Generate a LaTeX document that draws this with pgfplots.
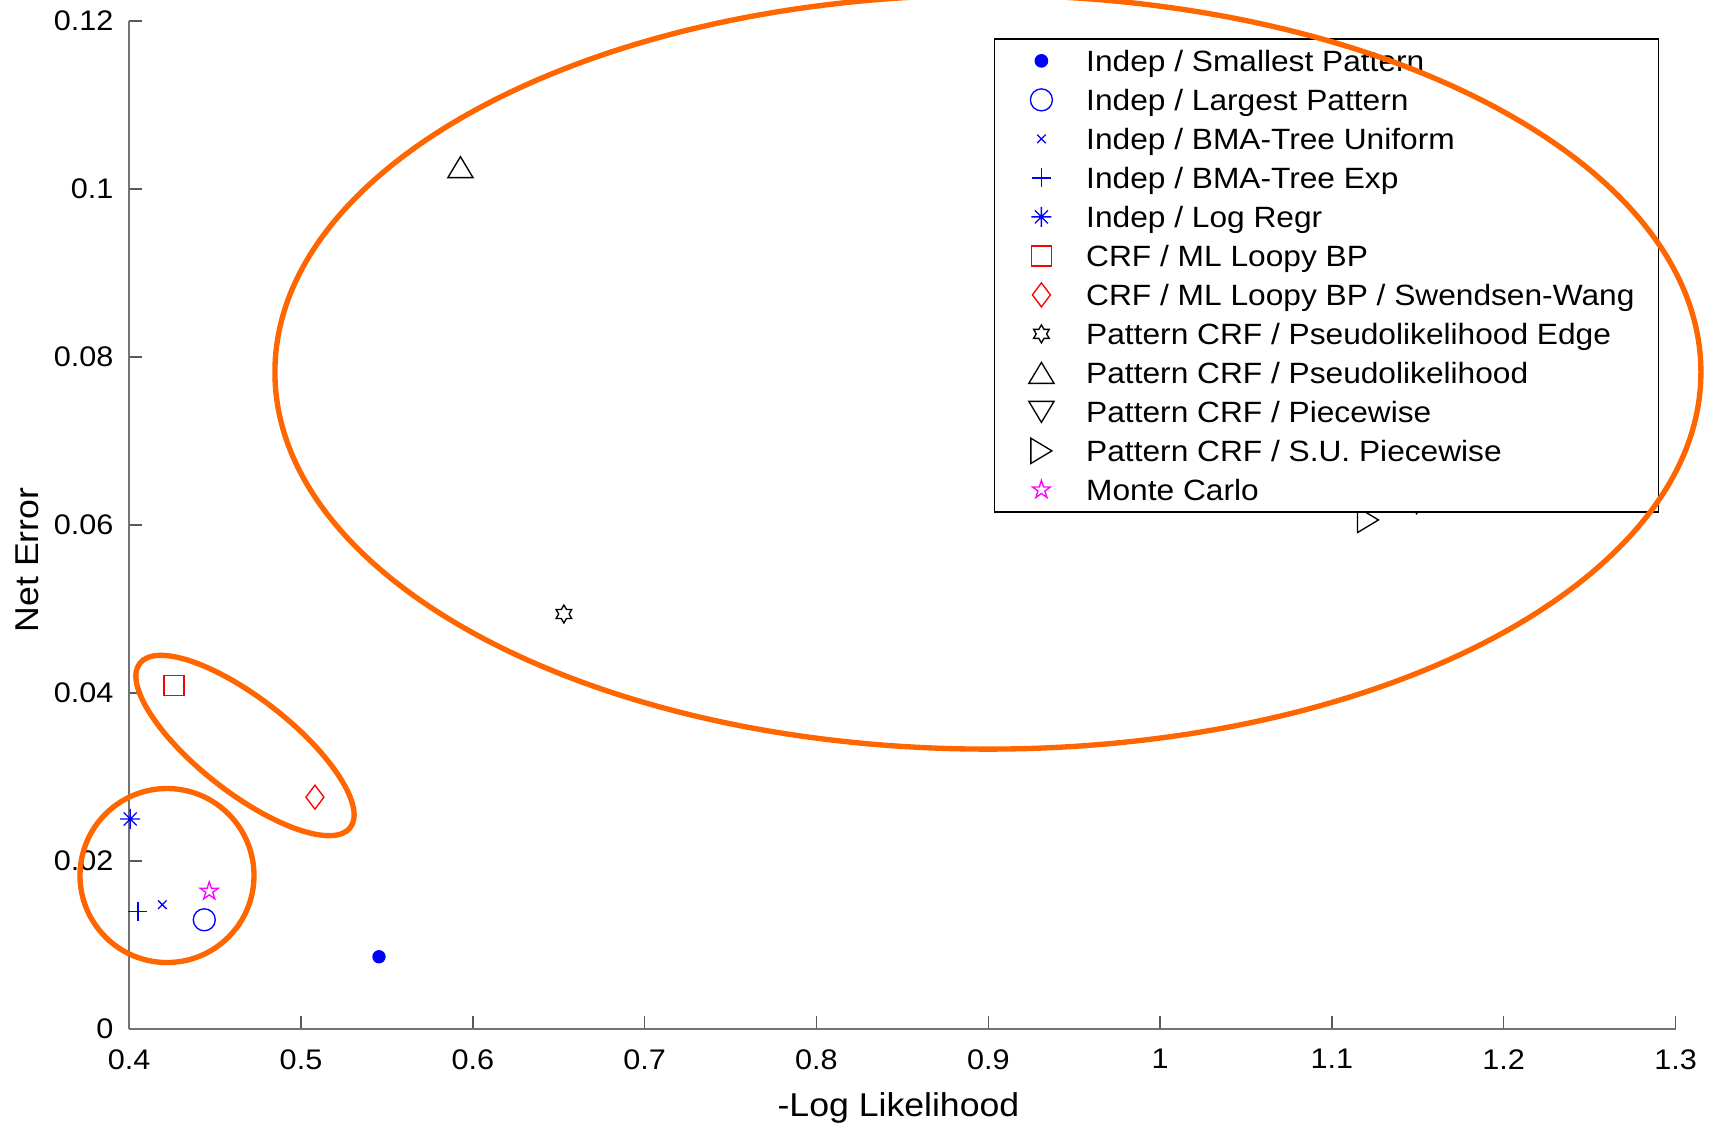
\documentclass[border=0pt]{standalone}
\usepackage{pgfplots}
\pgfplotsset{compat=1.18}
\usepackage{fontspec}
\setmainfont{Liberation Sans}[FakeStretch=1.08]
\usetikzlibrary{plotmarks}

\definecolor{ellorange}{RGB}{255,102,0}
\definecolor{mmagenta}{RGB}{255,0,255}

% matlab style markers
\pgfdeclareplotmark{mast}{%
  \pgfpathmoveto{\pgfqpoint{-\pgfplotmarksize}{0pt}}\pgfpathlineto{\pgfqpoint{\pgfplotmarksize}{0pt}}%
  \pgfpathmoveto{\pgfqpoint{0pt}{-\pgfplotmarksize}}\pgfpathlineto{\pgfqpoint{0pt}{\pgfplotmarksize}}%
  \pgfpathmoveto{\pgfqpoint{-.65\pgfplotmarksize}{-.65\pgfplotmarksize}}\pgfpathlineto{\pgfqpoint{.65\pgfplotmarksize}{.65\pgfplotmarksize}}%
  \pgfpathmoveto{\pgfqpoint{-.65\pgfplotmarksize}{.65\pgfplotmarksize}}\pgfpathlineto{\pgfqpoint{.65\pgfplotmarksize}{-.65\pgfplotmarksize}}%
  \pgfusepathqstroke}
\pgfdeclareplotmark{hexa}{%
  \pgfpathmoveto{\pgfpointpolar{90}{\pgfplotmarksize}}%
  \pgfpathlineto{\pgfpointpolar{120}{.577\pgfplotmarksize}}%
  \pgfpathlineto{\pgfpointpolar{150}{\pgfplotmarksize}}%
  \pgfpathlineto{\pgfpointpolar{180}{.577\pgfplotmarksize}}%
  \pgfpathlineto{\pgfpointpolar{210}{\pgfplotmarksize}}%
  \pgfpathlineto{\pgfpointpolar{240}{.577\pgfplotmarksize}}%
  \pgfpathlineto{\pgfpointpolar{270}{\pgfplotmarksize}}%
  \pgfpathlineto{\pgfpointpolar{300}{.577\pgfplotmarksize}}%
  \pgfpathlineto{\pgfpointpolar{330}{\pgfplotmarksize}}%
  \pgfpathlineto{\pgfpointpolar{0}{.577\pgfplotmarksize}}%
  \pgfpathlineto{\pgfpointpolar{30}{\pgfplotmarksize}}%
  \pgfpathlineto{\pgfpointpolar{60}{.577\pgfplotmarksize}}%
  \pgfpathclose\pgfusepathqstroke}
\pgfdeclareplotmark{penta}{%
  \pgfpathmoveto{\pgfpointpolar{90}{\pgfplotmarksize}}%
  \pgfpathlineto{\pgfpointpolar{126}{.382\pgfplotmarksize}}%
  \pgfpathlineto{\pgfpointpolar{162}{\pgfplotmarksize}}%
  \pgfpathlineto{\pgfpointpolar{198}{.382\pgfplotmarksize}}%
  \pgfpathlineto{\pgfpointpolar{234}{\pgfplotmarksize}}%
  \pgfpathlineto{\pgfpointpolar{270}{.382\pgfplotmarksize}}%
  \pgfpathlineto{\pgfpointpolar{306}{\pgfplotmarksize}}%
  \pgfpathlineto{\pgfpointpolar{342}{.382\pgfplotmarksize}}%
  \pgfpathlineto{\pgfpointpolar{18}{\pgfplotmarksize}}%
  \pgfpathlineto{\pgfpointpolar{54}{.382\pgfplotmarksize}}%
  \pgfpathclose\pgfusepathqstroke}
\pgfdeclareplotmark{tru}{%
  \pgfpathmoveto{\pgfqpoint{0pt}{\pgfplotmarksize}}%
  \pgfpathlineto{\pgfqpoint{-1.2\pgfplotmarksize}{-\pgfplotmarksize}}%
  \pgfpathlineto{\pgfqpoint{1.2\pgfplotmarksize}{-\pgfplotmarksize}}%
  \pgfpathclose\pgfusepathqstroke}
\pgfdeclareplotmark{trd}{%
  \pgfpathmoveto{\pgfqpoint{0pt}{-\pgfplotmarksize}}%
  \pgfpathlineto{\pgfqpoint{-1.2\pgfplotmarksize}{\pgfplotmarksize}}%
  \pgfpathlineto{\pgfqpoint{1.2\pgfplotmarksize}{\pgfplotmarksize}}%
  \pgfpathclose\pgfusepathqstroke}
\pgfdeclareplotmark{trr}{%
  \pgfpathmoveto{\pgfqpoint{\pgfplotmarksize}{0pt}}%
  \pgfpathlineto{\pgfqpoint{-\pgfplotmarksize}{1.2\pgfplotmarksize}}%
  \pgfpathlineto{\pgfqpoint{-\pgfplotmarksize}{-1.2\pgfplotmarksize}}%
  \pgfpathclose\pgfusepathqstroke}

\begin{document}
\begin{tikzpicture}
\begin{axis}[
    at={(0pt,0pt)}, anchor=south west,
    scale only axis, width=463.9pt, height=302.4pt,
    xmin=0.4, xmax=1.3, ymin=0, ymax=0.12,
    clip=false,
    axis x line*=bottom, axis y line*=left,
    axis line style={draw=black!55, line width=0.6pt},
    tick align=inside, major tick length=3.9pt,
    tick style={black!65, line width=0.45pt},
    xtick={0.4,0.5,0.6,0.7,0.8,0.9,1.0,1.1,1.2,1.3},
    xticklabels={0.4,0.5,0.6,0.7,0.8,0.9,1,1.1,1.2,1.3},
    ytick={0,0.02,0.04,0.06,0.08,0.1,0.12},
    yticklabels={0,0.02,0.04,0.06,0.08,0.1,0.12},
    ticklabel style={font=\fontsize{8.5}{10}\selectfont},
    xticklabel style={yshift=-2.6pt},
    yticklabel style={xshift=-1.2pt},
    xlabel={-Log Likelihood}, ylabel={Net Error},
    label style={font=\fontsize{9.9}{11}\selectfont},
    xlabel style={at={(axis description cs:0.4975,-0.0788)}, anchor=center},
    ylabel style={at={(axis description cs:-0.0657,0.4653)}, anchor=center},
    legend style={
        at={(axis description cs:0.5591,0.9831)}, anchor=north west,
        draw=black, line width=0.5pt, fill=white,
        font=\fontsize{8.8}{10}\selectfont,
        inner xsep=0pt, inner ysep=1.75pt, row sep=2pt,
        nodes={inner sep=0pt, text height=8pt, text depth=1.7pt},
    },
    legend cell align=left,
    legend image code/.code={\path (0pt,0pt) (27pt,0pt);
        \draw[mark repeat=2,mark phase=2,#1] plot coordinates {(0pt,0pt)(13.8pt,0pt)(27.6pt,0pt)};},
]
\addplot[only marks, blue, mark=*, mark size=1.8pt] coordinates {(0.5454,0.0086)};
\addplot[only marks, blue, mark=o, mark size=3.3pt, line width=0.4pt] coordinates {(0.4437,0.0130)};
\addplot[only marks, blue, mark=x, mark size=1.8pt, line width=0.4pt] coordinates {(0.4193,0.0148)};
\addplot[only marks, blue, mark=+, mark size=2.85pt, line width=0.4pt] coordinates {(0.4051,0.0140)};
\addplot[only marks, blue, mark=mast, mark size=3pt, line width=0.4pt] coordinates {(0.4006,0.0250)};
\addplot[only marks, red, mark=square, mark size=3pt, line width=0.4pt] coordinates {(0.4261,0.0409)};
\addplot[only marks, red, mark=diamond, mark size=3.6pt, line width=0.4pt] coordinates {(0.5081,0.0276)};
\addplot[only marks, black, mark=hexa, mark size=2.7pt, line width=0.4pt] coordinates {(0.6530,0.0494)};
\addplot[only marks, black, mark=tru, mark size=3.15pt, line width=0.4pt] coordinates {(0.5928,0.1026)};
\addplot[only marks, black, mark=trd, mark size=3.15pt, line width=0.4pt] coordinates {(1.1493,0.0626)};
\addplot[only marks, black, mark=trr, mark size=3.15pt, line width=0.4pt] coordinates {(1.1210,0.0606)};
\addplot[only marks, mmagenta, mark=penta, mark size=2.85pt, line width=0.4pt] coordinates {(0.4466,0.0164)};
\legend{Indep / Smallest Pattern, Indep / Largest Pattern, Indep / BMA-Tree Uniform,
    Indep / BMA-Tree Exp, Indep / Log Regr, CRF / ML Loopy BP,
    CRF / ML Loopy BP / Swendsen-Wang\hspace*{7.2pt}, Pattern CRF / Pseudolikelihood Edge,
    Pattern CRF / Pseudolikelihood, Pattern CRF / Piecewise,
    Pattern CRF / S.U. Piecewise, Monte Carlo}
\coordinate (cBig) at (axis cs:0.8998,0.0782);
\coordinate (cMid) at (axis cs:0.4674,0.03375);
\coordinate (cLow) at (axis cs:0.4220,0.01827);
\end{axis}
% annotation rings drawn over the legend
\draw[ellorange, line width=1.6pt] (cBig) ellipse [x radius=213.9pt, y radius=113.1pt];
\draw[ellorange, line width=1.6pt] (cMid) ellipse [x radius=40.05pt, y radius=14.1pt, rotate=-38];
\draw[ellorange, line width=1.6pt] (cLow) circle [radius=26.1pt];
\pgfresetboundingbox
\useasboundingbox (-38.76pt,-28.5pt) rectangle (476.34pt,308.7pt);
\end{tikzpicture}
\end{document}
